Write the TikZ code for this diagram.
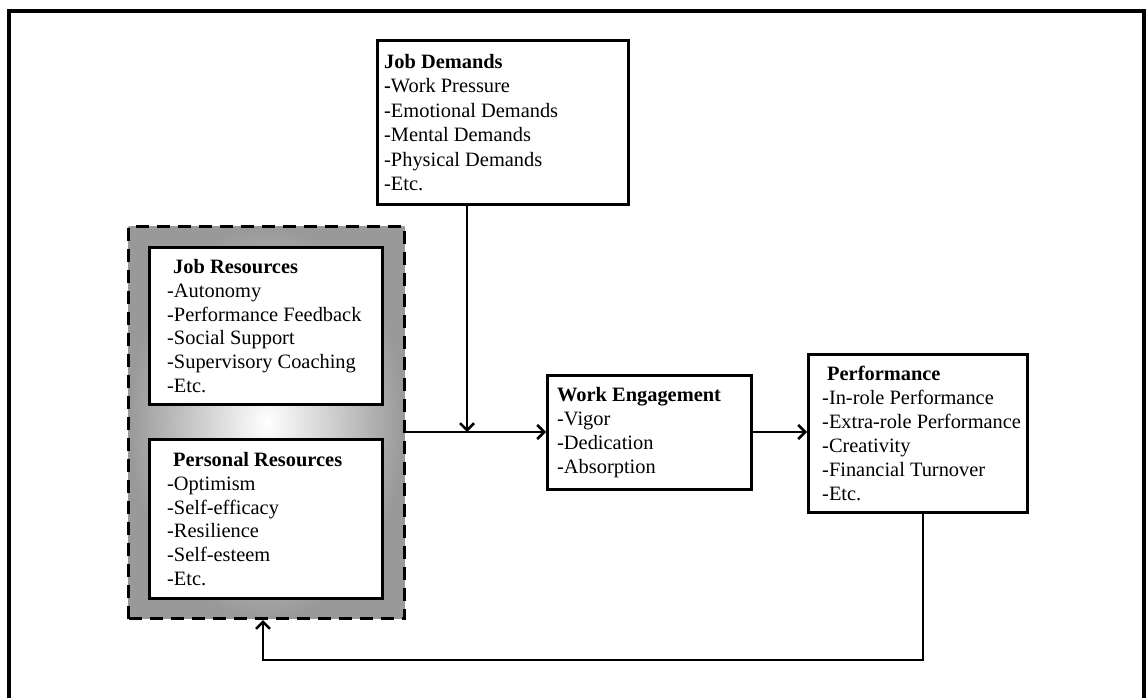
\documentclass[tikz,border=0pt]{standalone}
\usepackage{fontspec}
\setmainfont{Liberation Serif}
\usetikzlibrary{positioning,arrows.meta}

\begin{document}
\begin{tikzpicture}[x=1pt,y=-1pt,>={Straight Barb[length=7pt,width=14pt]},
  box/.style={draw,fill=white,line width=3pt,inner sep=0pt,anchor=north west},
  txt/.style={anchor=west,align=left,inner sep=0pt,font=\fontsize{20.4}{23.8}\selectfont},
  link/.style={->,line width=2.5pt}]
\useasboundingbox (0,0) rectangle (1146,698);
\draw[line width=4pt] (9,11) rectangle (1144,730);
% resources group
\node[box,shade,inner color=white,outer color=gray!80,dash pattern=on 13pt off 8pt,
  minimum width=276pt,minimum height=392pt] (res) at (127,225) {};
\node[box,minimum width=233pt,minimum height=157pt] (jr) at (148,246) {};
\node[txt] (jrtext) at ([xshift=19pt]jr.west) {\hspace*{6pt}\textbf{Job Resources}\\-Autonomy\\-Performance Feedback\\-Social Support\\-Supervisory Coaching\\-Etc.};
\node[box,minimum width=233pt,minimum height=159pt] (pr) at (148,438) {};
\node[txt] (prtext) at ([xshift=19pt]pr.west) {\hspace*{6pt}\textbf{Personal Resources}\\-Optimism\\-Self-efficacy\\-Resilience\\-Self-esteem\\-Etc.};
% demands
\node[box,minimum width=251pt,minimum height=164pt] (jd) at (376,39) {};
\node[txt,font=\fontsize{20.4}{24.4}\selectfont] (jdtext) at ([xshift=8pt]jd.west) {\textbf{Job Demands}\\\textbf{-}Work Pressure\\-Emotional Demands\\-Mental Demands\\-Physical Demands\\-Etc.};
% engagement and performance
\node[box,minimum width=204pt,minimum height=114pt] (we) at (546,374) {};
\node[txt] (wetext) at ([xshift=11pt]we.west) {\textbf{Work Engagement}\\-Vigor\\-Dedication\\-Absorption};
\node[box,minimum width=219pt,minimum height=158pt] (perf) at (807,353) {};
\node[txt,font=\fontsize{20.4}{24}\selectfont] (perftext) at ([xshift=15pt]perf.west) {\hspace*{5pt}\textbf{Performance}\\-In-role Performance\\-Extra-role Performance\\-Creativity\\-Financial Turnover\\-Etc.};
% connectors
\coordinate (meet) at (467,432);
\coordinate (fbright) at (923,660);
\coordinate (fbleft) at (263,660);
\draw[link] (res.east |- meet) -- (we.west |- meet);
\draw[link] (jd.south -| meet) -- (meet);
\draw[link] (we.east |- meet) -- (perf.west |- meet);
\draw[link] (perf.south -| fbright) -- (fbright) -- (fbleft) -- (fbleft |- res.south);
\end{tikzpicture}
\end{document}
